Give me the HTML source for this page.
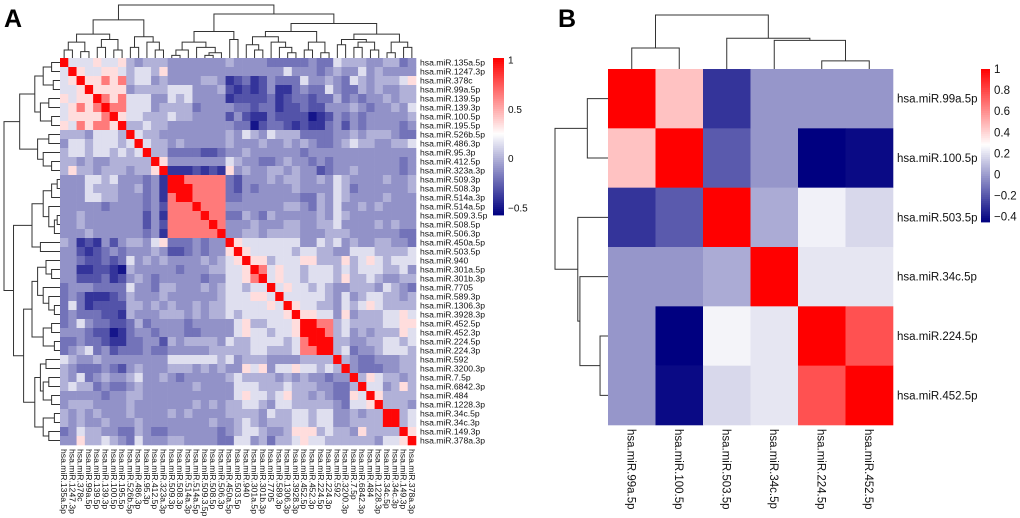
<!DOCTYPE html>
<html><head><meta charset="utf-8"><style>
html,body{margin:0;padding:0;background:#fff;}
svg{display:block;font-family:"Liberation Sans",Arial,sans-serif;}
</style></head><body>
<svg id="fig" width="1020" height="518" viewBox="0 0 1020 518" xmlns="http://www.w3.org/2000/svg">
<text x="4" y="27" font-size="25" font-weight="bold">A</text>
<text x="558" y="27" font-size="25" font-weight="bold">B</text>
<g id="pa"></g>
<g id="pb"></g>
</svg>
<script>
// ---------- Panel A data ----------
const labelsA = ["hsa.miR.135a.5p","hsa.miR.1247.3p","hsa.miR.378c","hsa.miR.99a.5p","hsa.miR.139.5p","hsa.miR.139.3p","hsa.miR.100.5p","hsa.miR.195.5p","hsa.miR.526b.5p","hsa.miR.486.3p","hsa.miR.95.3p","hsa.miR.412.5p","hsa.miR.323a.3p","hsa.miR.509.3p","hsa.miR.508.3p","hsa.miR.514a.3p","hsa.miR.514a.5p","hsa.miR.509.3.5p","hsa.miR.508.5p","hsa.miR.506.3p","hsa.miR.450a.5p","hsa.miR.503.5p","hsa.miR.940","hsa.miR.301a.5p","hsa.miR.301b.3p","hsa.miR.7705","hsa.miR.589.3p","hsa.miR.1306.3p","hsa.miR.3928.3p","hsa.miR.452.5p","hsa.miR.452.3p","hsa.miR.224.5p","hsa.miR.224.3p","hsa.miR.592","hsa.miR.3200.3p","hsa.miR.7.5p","hsa.miR.6842.3p","hsa.miR.484","hsa.miR.1228.3p","hsa.miR.34c.5p","hsa.miR.34c.3p","hsa.miR.149.3p","hsa.miR.378a.3p"];
const levelValues = [-0.5,-0.4,-0.3,-0.2,-0.1,0,0.15,0.35,0.65,1];
const lowerA = [
"9","69","679","6679","76779","678789","6777789","76878879",
"555466659","4665666569","56656656569","554544555559","5755455545579",
"44466564443419","444655544534199","4446655444341899","44444344443428889","445444444424188889","4454444444242888889","44454444443418888889",
"54121424"+"55467"+"3334344"+"9",
"44212343"+"44454"+"2234344"+"79",
"44322323"+"64545"+"4444545"+"67"+"9",
"44112210"+"54444"+"4344455"+"66"+"79",
"44222312"+"45434"+"4444344"+"66"+"789",
"34443333"+"64435"+"5444545"+"66"+"5669",
"34311123"+"54445"+"4444445"+"66"+"67769",
"36312222"+"55454"+"5445455"+"66"+"666769",
"34333221"+"54445"+"5545455"+"65"+"6666679",
"34643322"+"35344"+"4434444"+"46"+"7556667"+"9",
"44432201"+"34434"+"4433444"+"46"+"7665667"+"99",
"33433211"+"33442"+"5455554"+"65"+"5666656"+"899",
"34563423"+"33433"+"4444455"+"55"+"5665556"+"8899",
"65445444"+"44444"+"6666665"+"64"+"5554444"+"5555"+"9",
"54333432"+"45444"+"5554545"+"44"+"7674667"+"6656"+"59",
"54634544"+"56445"+"4344444"+"56"+"5555454"+"5443"+"449",
"56553433"+"45444"+"4445444"+"46"+"6655565"+"5544"+"3359",
"44444344"+"55444"+"4444444"+"46"+"7665675"+"5454"+"33769",
"45554444"+"54444"+"4445454"+"55"+"6654665"+"5555"+"436679",
"54545444"+"54444"+"5454444"+"55"+"5546556"+"6566"+"4454559",
"54544544"+"45444"+"4444454"+"45"+"6545556"+"6566"+"44555599",
"34655443"+"35433"+"4444443"+"45"+"6654457"+"7756"+"554755559",
"44755654"+"36444"+"5544443"+"36"+"6453556"+"7665"+"5555546679"
];
const treeA = [1,
  [0.72,
    [0.45,[0.3,[0.15,0,1],[0.12,2,3]],[0.35,[0.2,4,5],[0.15,6,7]]],
    [0.4,[0.2,8,9],[0.3,10,[0.15,11,12]]]],
  [0.83,
    [0.5,[0.3,[0.15,[0.05,13,14],15],[0.2,16,[0.1,[0.05,17,18],19]]],[0.35,20,21]],
    [0.65,
      [0.5,[0.4,[0.25,22,[0.15,23,24]],[0.3,25,[0.2,26,[0.1,27,28]]]],[0.3,[0.15,29,30],[0.1,31,32]]],
      [0.45,[0.35,[0.25,33,34],[0.3,[0.2,35,36],[0.15,37,38]]],[0.3,[0.1,39,40],[0.2,41,42]]]]]];
const ticksA = [1,0.5,0,-0.5];
const tickLabelsA = ["1","0.5","0","\u22120.5"];

// ---------- Panel B data ----------
const labelsB = ["hsa.miR.99a.5p","hsa.miR.100.5p","hsa.miR.503.5p","hsa.miR.34c.5p","hsa.miR.224.5p","hsa.miR.452.5p"];
const rowB0 = [1,0.45,-0.3,-0.02,-0.02,-0.02];
const rowB1 = [0.45,1,-0.19,-0.02,-0.45,-0.42];
const rowB2 = [-0.3,-0.19,1,0.04,0.24,0.17];
const rowB3 = [-0.02,-0.02,0.04,1,0.21,0.21];
const rowB4 = [-0.02,-0.45,0.25,0.21,1,0.77];
const rowB5 = [-0.02,-0.42,0.17,0.21,0.77,1];
const treeB = [1,[0.39,0,1],[0.57,2,[0.53,3,[0.15,4,5]]]];
const ticksB = [1,0.8,0.6,0.4,0.2,0,-0.2,-0.4];
const tickLabelsB = ["1","0.8","0.6","0.4","0.2","0","\u22120.2","\u22120.4"];

const NS="http://www.w3.org/2000/svg";
function mk(tag,attrs,parent){const e=document.createElementNS(NS,tag);for(const k in attrs)e.setAttribute(k,attrs[k]);parent.appendChild(e);return e;}
function colorFn(min,mid,max){return v=>{let r,g,b;if(v<mid){let f=Math.min(1,(mid-v)/(mid-min));r=255*(1-f);g=255*(1-f);b=255-127*f;}else{let f=Math.min(1,(v-mid)/(max-mid));r=255;g=255*(1-f);b=255*(1-f);}return `rgb(${r|0},${g|0},${b|0})`;};}

function drawTree(tree,g,leafPos,hToPos,horizontal){
  function rec(n){
    if(typeof n==="number") return {p:leafPos(n),h:0};
    const a=rec(n[1]),b=rec(n[2]);const H=hToPos(n[0]);
    let d;
    if(!horizontal){d=`M${a.p},${hToPos(a.h)}V${H}H${b.p}V${hToPos(b.h)}`;}
    else{d=`M${hToPos(a.h)},${a.p}H${H}V${b.p}H${hToPos(b.h)}`;}
    const l=mk("path",{d:d,fill:"none",stroke:"#333","stroke-width":1},g);
    
    
    return {p:(a.p+b.p)/2,h:n[0]};
  }
  rec(tree);
}

function heatmap(opt){
  const g=document.getElementById(opt.id);
  const n=opt.labels.length, cw=opt.w/n, ch=opt.h/n;
  const col=colorFn(opt.min,opt.mid,opt.max);
  for(let i=0;i<n;i++)for(let j=0;j<n;j++){
    const r=mk("rect",{x:opt.x+j*cw,y:opt.y+i*ch,width:cw+0.3,height:ch+0.3,fill:col(opt.val(i,j))},g);
    
    
  }
  for(let i=0;i<n;i++){
    const t=mk("text",{x:opt.x+opt.w+opt.lblGap,y:opt.y+(i+0.5)*ch+opt.fs*0.35,"font-size":opt.fs,fill:"#111"},g);
    t.textContent=opt.labels[i];
    
    
    const cx=opt.x+(i+0.5)*cw-opt.fs*0.35, cy=opt.y+opt.h+opt.lblGap;
    const t2=mk("text",{x:cx,y:cy,"font-size":opt.fs,fill:"#111",transform:`rotate(90 ${cx} ${cy})`},g);
    t2.textContent=opt.labels[i];
    
    
  }
  const dt=mk("g",{},g);
  
  
  drawTree(opt.tree,dt,i=>opt.x+(i+0.5)*cw,h=>opt.y-h*opt.dTop,false);
  const dl=mk("g",{},g);
  
  
  drawTree(opt.tree,dl,i=>opt.y+(i+0.5)*ch,h=>opt.x-h*opt.dLeft,true);
  const cb=mk("g",{},g);
  
  
  const steps=80;
  for(let s=0;s<steps;s++){
    const v=opt.max-(opt.max-opt.min)*(s+0.5)/steps;
    mk("rect",{x:opt.cbx,y:opt.cby+s*opt.cbh/steps,width:opt.cbw,height:opt.cbh/steps+0.4,fill:col(v)},cb);
  }
  const vy=v=>opt.cby+(opt.max-v)/(opt.max-opt.min)*opt.cbh;
  opt.ticks.forEach((v,k)=>{
    const t=mk("text",{x:opt.cbx+opt.cbw+4,y:vy(v)+opt.cfs*0.35,"font-size":opt.cfs,fill:"#111"},cb);
    t.textContent=opt.tickLabels[k];
    
    
  });
}

const NA=labelsA.length;
const matA=[];
for(let i=0;i<NA;i++){matA.push([]);for(let j=0;j<NA;j++){const a=Math.max(i,j),b=Math.min(i,j);matA[i].push(levelValues[+lowerA[a][b]]);}}
heatmap({id:"pa",labels:labelsA,x:60,y:58,w:356,h:387,val:(i,j)=>matA[i][j],
  min:-0.57,mid:0.25,max:1.02,fs:8.6,lblGap:4,tree:treeA,dTop:53,dLeft:56,
  cbx:493,cby:58,cbw:11,cbh:157,ticks:ticksA,tickLabels:tickLabelsA,cfs:10});
const matB=[rowB0,rowB1,rowB2,rowB3,rowB4,rowB5];
heatmap({id:"pb",labels:labelsB,x:608,y:69,w:285,h:356,val:(i,j)=>matB[i][j],
  min:-0.45,mid:0.28,max:1,fs:11.5,lblGap:4,tree:treeB,dTop:54,dLeft:53,
  cbx:981,cby:69,cbw:9,cbh:153,ticks:ticksB,tickLabels:tickLabelsB,cfs:11.5});
</script>
</body></html>
